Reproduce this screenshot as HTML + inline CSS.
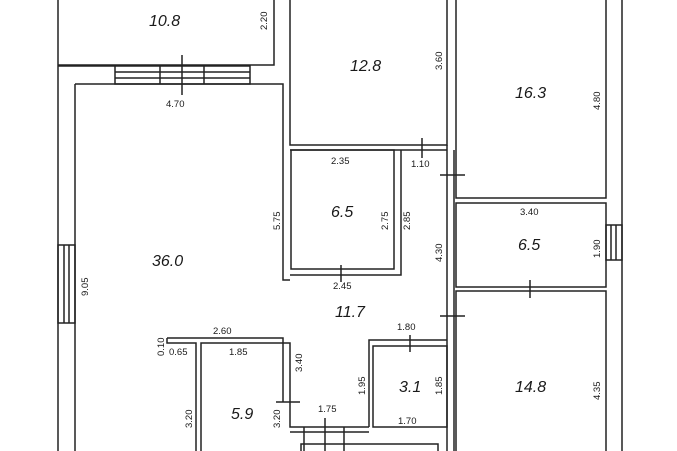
<!DOCTYPE html>
<html><head><meta charset="utf-8"><style>
html,body{margin:0;padding:0;background:#fff;width:677px;height:451px;overflow:hidden}
svg{display:block}
text{font-family:"Liberation Sans",sans-serif;fill:#1a1a1a}
.a{font-size:16px;font-style:italic}
.d{font-size:9.5px}
</style></head><body>
<svg width="677" height="451" viewBox="0 0 677 451" xmlns="http://www.w3.org/2000/svg">
<g fill="none" stroke="#222" stroke-width="1.5">
<line x1="58" y1="0" x2="58" y2="451"/>
<line x1="75" y1="84" x2="75" y2="451"/>
<rect x="58" y="245" width="17" height="78"/>
<line x1="64" y1="245" x2="64" y2="323"/><line x1="69" y1="245" x2="69" y2="323"/>
<polyline points="58,65 274,65 274,0"/>
<rect x="115" y="66" width="135" height="18"/>
<line x1="115" y1="72" x2="250" y2="72"/><line x1="115" y1="78" x2="250" y2="78"/>
<line x1="160" y1="66" x2="160" y2="84"/><line x1="204" y1="66" x2="204" y2="84"/>
<line x1="182" y1="55" x2="182" y2="95"/>
<line x1="58" y1="66" x2="115" y2="66"/>
<polyline points="75,84 283,84 283,280 290,280"/>
<polyline points="290,0 290,145 447,145 447,0"/>
<line x1="290" y1="150" x2="401" y2="150"/>
<line x1="422" y1="138" x2="422" y2="158"/>
<rect x="291" y="150" width="103" height="119"/>
<polyline points="290,275 401,275 401,150"/>
<line x1="401" y1="150" x2="447" y2="150"/>
<line x1="341" y1="265" x2="341" y2="282"/>
<line x1="447" y1="145" x2="447" y2="451"/>
<line x1="454" y1="150" x2="454" y2="451"/>
<line x1="440" y1="175" x2="465" y2="175"/>
<line x1="440" y1="316" x2="465" y2="316"/>
<polyline points="456,0 456,198 606,198 606,0"/>
<line x1="622" y1="0" x2="622" y2="451"/>
<rect x="456" y="203" width="150" height="84"/>
<rect x="606" y="225" width="16" height="35"/>
<line x1="611" y1="225" x2="611" y2="260"/><line x1="616" y1="225" x2="616" y2="260"/>
<polyline points="456,451 456,291 606,291 606,451"/>
<line x1="530" y1="280" x2="530" y2="298"/>
<polyline points="369,427 369,340 447,340"/>
<rect x="373" y="346" width="74" height="81"/>
<line x1="410" y1="335" x2="410" y2="352"/>
<polyline points="167,338 283,338 283,402"/>
<polyline points="167,338 167,343 196,343 196,451"/>
<polyline points="201,451 201,343 290,343 290,427 369,427"/>
<line x1="276" y1="402" x2="300" y2="402"/>
<rect x="301" y="444" width="137" height="12"/>
<line x1="304" y1="427" x2="304" y2="451"/><line x1="344" y1="427" x2="344" y2="451"/>
<line x1="325" y1="418" x2="325" y2="451"/>
<line x1="290" y1="432" x2="369" y2="432"/>
</g>
<text class="a" x="149" y="26">10.8</text>
<text class="a" x="350" y="71">12.8</text>
<text class="a" x="515" y="98">16.3</text>
<text class="a" x="331" y="217">6.5</text>
<text class="a" x="518" y="250">6.5</text>
<text class="a" x="152" y="266">36.0</text>
<text class="a" x="335" y="317">11.7</text>
<text class="a" x="399" y="392">3.1</text>
<text class="a" x="515" y="392">14.8</text>
<text class="a" x="231" y="419">5.9</text>
<g class="d">
<text x="166" y="107">4.70</text>
<text x="331" y="164">2.35</text>
<text x="411" y="167">1.10</text>
<text x="520" y="215">3.40</text>
<text x="333" y="289">2.45</text>
<text x="397" y="330">1.80</text>
<text x="213" y="334">2.60</text>
<text x="169" y="355">0.65</text>
<text x="229" y="355">1.85</text>
<text x="318" y="412">1.75</text>
<text x="398" y="424">1.70</text>
<text transform="translate(267,30) rotate(-90)">2.20</text>
<text transform="translate(442,70) rotate(-90)">3.60</text>
<text transform="translate(600,110) rotate(-90)">4.80</text>
<text transform="translate(280,230) rotate(-90)">5.75</text>
<text transform="translate(388,230) rotate(-90)">2.75</text>
<text transform="translate(410,230) rotate(-90)">2.85</text>
<text transform="translate(442,262) rotate(-90)">4.30</text>
<text transform="translate(600,258) rotate(-90)">1.90</text>
<text transform="translate(88,296) rotate(-90)">9.05</text>
<text transform="translate(164,356) rotate(-90)">0.10</text>
<text transform="translate(302,372) rotate(-90)">3.40</text>
<text transform="translate(365,395) rotate(-90)">1.95</text>
<text transform="translate(442,395) rotate(-90)">1.85</text>
<text transform="translate(600,400) rotate(-90)">4.35</text>
<text transform="translate(192,428) rotate(-90)">3.20</text>
<text transform="translate(280,428) rotate(-90)">3.20</text>
</g>
</svg>
</body></html>
